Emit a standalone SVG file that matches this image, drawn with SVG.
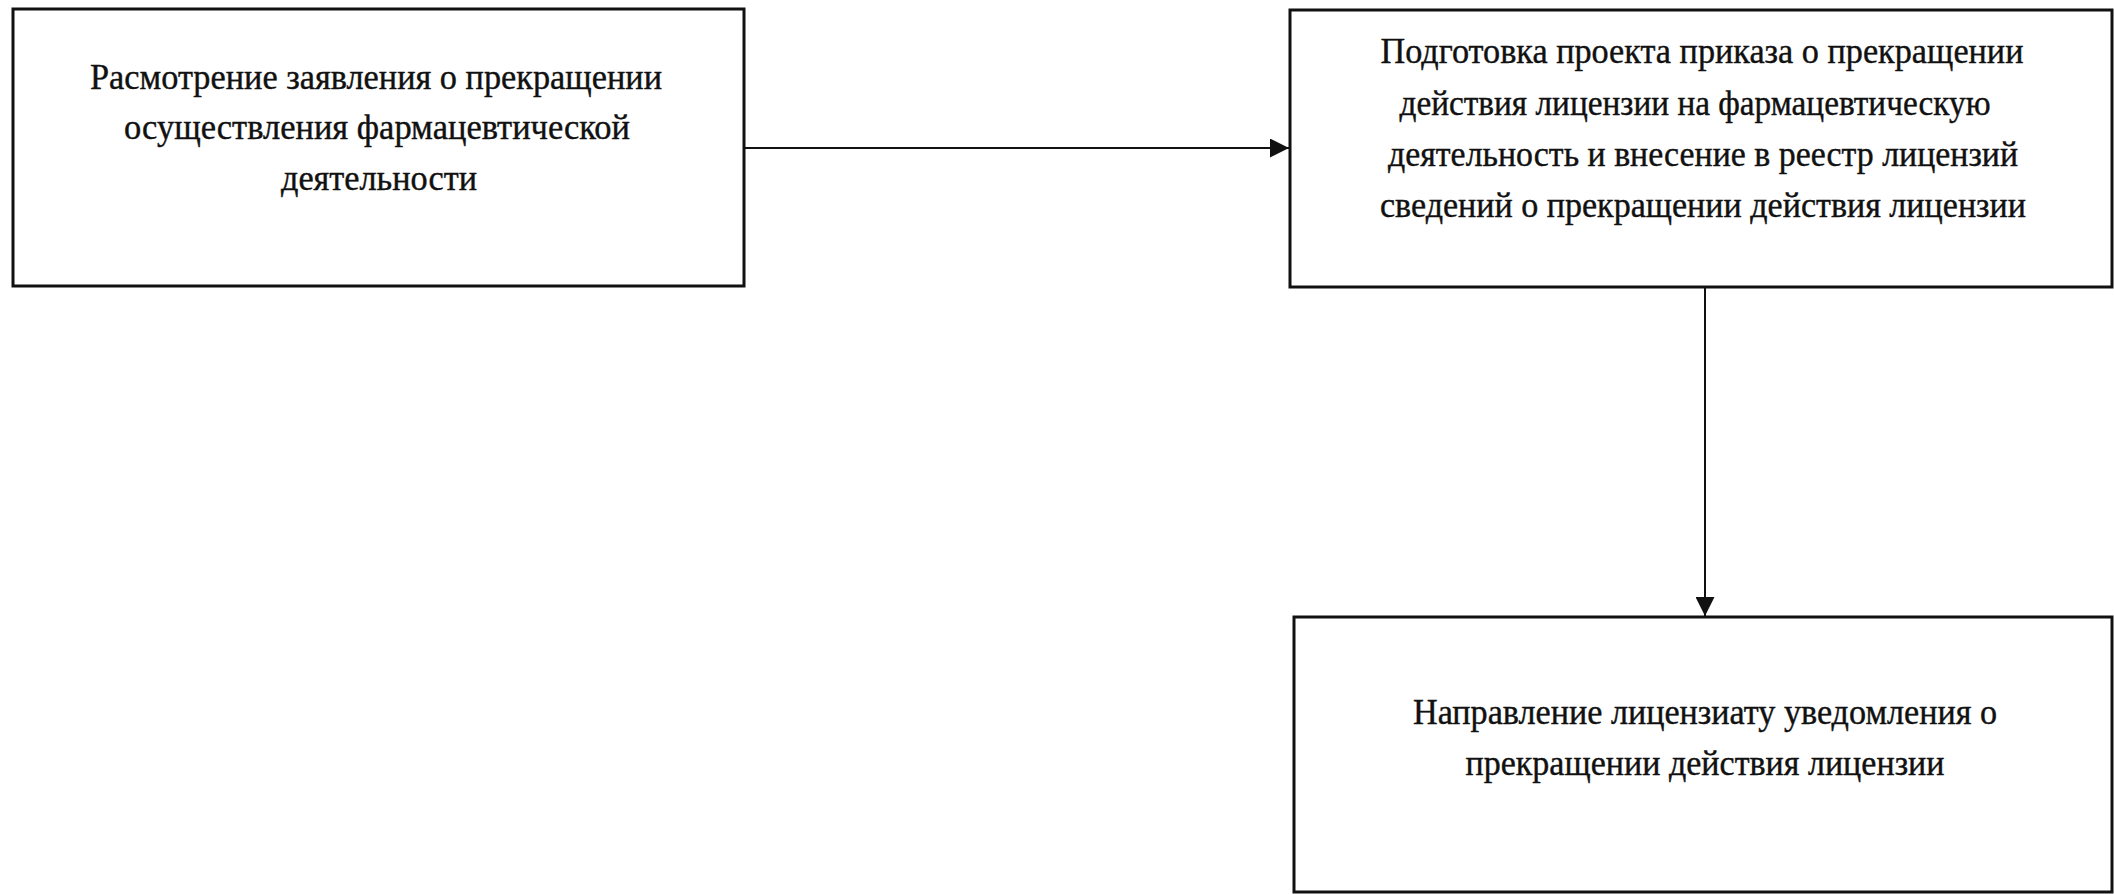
<svg xmlns="http://www.w3.org/2000/svg" width="2114" height="894" viewBox="0 0 2114 894">
<style>
.box{fill:#fff;stroke:#111;stroke-width:3}
.t{font-family:"Liberation Serif","Times New Roman",serif;font-size:35px;fill:#111;text-anchor:middle;stroke:#111;stroke-width:0.4}
.c{stroke:#111;stroke-width:2;fill:none}
</style>
<defs>
<marker id="ah" viewBox="0 0 10 10" refX="10" refY="5" markerWidth="19" markerHeight="19" markerUnits="userSpaceOnUse" orient="auto">
<path d="M0,0 L10,5 L0,10 Z" fill="#111"/>
</marker>
</defs>
<rect width="2114" height="894" fill="#fff"/>
<g id="n1">
<rect class="box" x="13" y="9" width="731" height="277"/>
<text class="t" x="376" y="89" textLength="572" lengthAdjust="spacingAndGlyphs">Расмотрение заявления о прекращении</text>
<text class="t" x="377" y="139" textLength="506" lengthAdjust="spacingAndGlyphs">осуществления фармацевтической</text>
<text class="t" x="379" y="190" textLength="196" lengthAdjust="spacingAndGlyphs">деятельности</text>
</g>
<g id="n2">
<rect class="box" x="1290" y="10" width="822" height="277"/>
<text class="t" x="1702" y="63" textLength="643" lengthAdjust="spacingAndGlyphs">Подготовка проекта приказа о прекращении</text>
<text class="t" x="1695" y="115" textLength="591" lengthAdjust="spacingAndGlyphs">действия лицензии на фармацевтическую</text>
<text class="t" x="1703" y="166" textLength="630" lengthAdjust="spacingAndGlyphs">деятельность и внесение в реестр лицензий</text>
<text class="t" x="1703" y="217" textLength="646" lengthAdjust="spacingAndGlyphs">сведений о прекращении действия лицензии</text>
</g>
<g id="n3">
<rect class="box" x="1294" y="617" width="818" height="275"/>
<text class="t" x="1705" y="724" textLength="584" lengthAdjust="spacingAndGlyphs">Направление лицензиату уведомления о</text>
<text class="t" x="1705" y="775" textLength="479" lengthAdjust="spacingAndGlyphs">прекращении действия лицензии</text>
</g>
<g id="connectors">
<line class="c" x1="744" y1="148" x2="1289" y2="148" marker-end="url(#ah)"/>
<line class="c" x1="1705" y1="287" x2="1705" y2="616" marker-end="url(#ah)"/>
</g>
</svg>
